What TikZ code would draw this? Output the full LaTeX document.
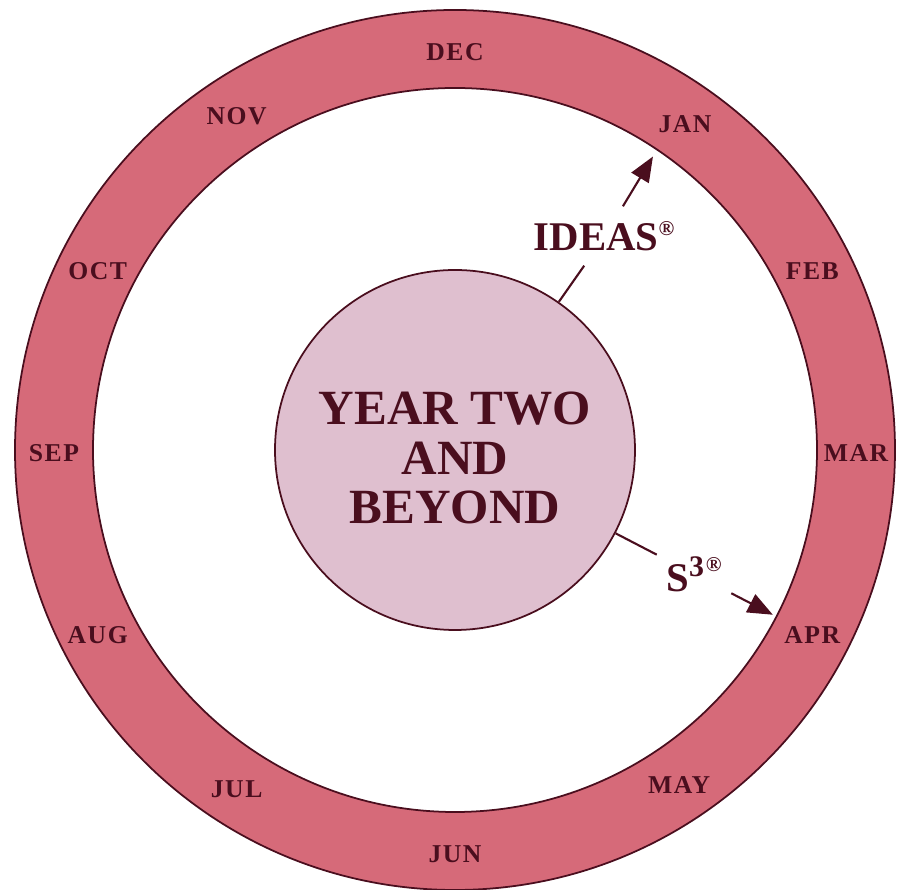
\documentclass[tikz,border=0pt]{standalone}
\usepackage{fontspec}
\setmainfont{Liberation Serif}
\newfontfamily\monthfont[LetterSpace=6]{Liberation Serif}
\usetikzlibrary{arrows.meta}
\definecolor{ringred}{HTML}{D66A79}
\definecolor{corepink}{HTML}{DFBFCF}
\definecolor{maroon}{HTML}{4A0E1E}

\tikzset{
  month/.style={font=\monthfont\bfseries\fontsize{7.3}{8}\selectfont, text=maroon},
  tag/.style={font=\bfseries\fontsize{11.6}{13}\selectfont, text=maroon},
  link/.style={draw=maroon, line width=0.6pt},
}

\begin{document}
\begin{tikzpicture}[>={Triangle[length=2.5mm,width=2mm]}]
\useasboundingbox (-4.55,-4.40) rectangle (4.43,4.50);
% month ring
\fill[ringred, even odd rule] (0,0) circle (4.40) (0,0) circle (3.62);
\draw[maroon, line width=0.5pt] (0,0) circle (4.40) (0,0) circle (3.62);
\foreach \ang/\mon in {90/DEC, 55/JAN, 27/FEB, 0/MAR, -27/APR, -56/MAY,
                       -90/JUN, -123/JUL, -153/AUG, 180/SEP, 153/OCT, 123/NOV}
  \node[month, yshift=-0.03cm] (m-\mon) at (\ang:4.01) {\mon};
% centre circle
\node[circle, draw=maroon, fill=corepink, line width=0.5pt,
      minimum size=3.6cm, inner sep=0pt] (core) at (0,0) {};
\node[align=center, text=maroon, font=\bfseries\fontsize{14}{14.2}\selectfont]
  (title) at (0,-0.08) {YEAR TWO\\AND\\BEYOND};
% IDEAS arrow -> JAN
\node[tag, inner xsep=1pt, inner ysep=0pt, minimum height=0.58cm] (ideas) at (1.50,2.14)
  {IDEAS\textsuperscript{\fontsize{6}{6}\selectfont ®}};
\coordinate (janTip) at (56:3.54);
\draw[link] (core) -- (ideas);
\draw[link,->] (ideas) -- (janTip);
% S3 arrow -> APR
\node[tag, inner xsep=0.09cm, inner ysep=0.05cm] (sss) at (2.39,-1.24)
  {S\textsuperscript{\fontsize{8.5}{9}\selectfont 3}\raisebox{1.05ex}{\fontsize{6}{6}\selectfont ®}};
\coordinate (aprTip) at (-27.4:3.58);
\draw[link] (core) -- (sss);
\draw[link,->] (sss) -- (aprTip);
\end{tikzpicture}
\end{document}
